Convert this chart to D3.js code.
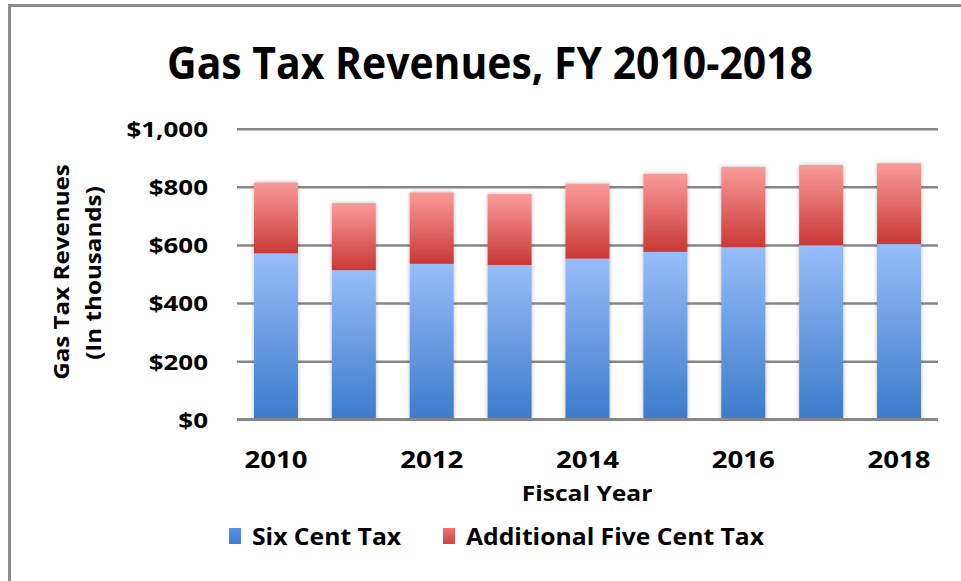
<!DOCTYPE html>
<html>
<head>
<meta charset="utf-8">
<script src="https://cdn.jsdelivr.net/npm/d3@7"></script>
<style>
  html, body { margin: 0; padding: 0; background: #ffffff; }
  svg { display: block; }
  text { font-family: "Open Sans", Lato, sans-serif; font-weight: 700; fill: #000; }
</style>
</head>
<body>
<svg id="chart" width="961" height="581"></svg>
<script>
// Fiscal years on the category axis
const years = ["2010", "2011", "2012", "2013", "2014", "2015", "2016", "2017", "2018"];
// Revenue from the six cent tax (in thousands of dollars)
const sixCentTax = [571, 513, 535, 531, 553, 576, 592, 599, 603];
// Revenue from the additional five cent tax (in thousands of dollars)
const fiveCentTax = [244, 231, 246, 244, 258, 269, 276, 276, 278];
// Labelled years on the x axis and value ticks on the y axis
const xTickLabels = ["2010", "2012", "2014", "2016", "2018"];
const yTickValues = [0, 200, 400, 600, 800, 1000];
const seriesNames = ["Six Cent Tax", "Additional Five Cent Tax"];

const svg = d3.select("#chart");
const W = 961, H = 581;
const plot = { left: 237, right: 938, top: 128.7, bottom: 419.3 };

const x = d3.scaleBand().domain(years).range([plot.left, plot.right])
  .paddingInner(0.435).paddingOuter(0.2175);
const y = d3.scaleLinear().domain([0, 1000]).range([plot.bottom, plot.top]);

const defs = svg.append("defs");
function grad(id, top, bottom) {
  const g = defs.append("linearGradient").attr("id", id)
    .attr("x1", 0).attr("y1", 0).attr("x2", 0).attr("y2", 1);
  g.append("stop").attr("offset", "0%").attr("stop-color", top);
  g.append("stop").attr("offset", "100%").attr("stop-color", bottom);
}
grad("gBlue", "#97bdf9", "#3c7bcb");
grad("gRed", "#fa9b99", "#c93836");
grad("gBlueKey", "#5b93e0", "#3f7ccc");
grad("gRedKey", "#ee7472", "#cf4442");
const sh = defs.append("filter").attr("id", "shadow")
  .attr("x", "-30%").attr("y", "-10%").attr("width", "160%").attr("height", "120%");
sh.append("feDropShadow").attr("dx", 0).attr("dy", 0).attr("stdDeviation", 2.2)
  .attr("flood-color", "#000").attr("flood-opacity", 0.28);

// frame
svg.append("line").attr("x1", 8).attr("x2", W).attr("y1", 5.5).attr("y2", 5.5)
  .attr("stroke", "#8c8c8c").attr("stroke-width", 3);
svg.append("line").attr("x1", 9.5).attr("x2", 9.5).attr("y1", 4).attr("y2", H)
  .attr("stroke", "#8c8c8c").attr("stroke-width", 3);

// horizontal gridlines with value labels
const yAxis = d3.axisLeft(y).tickValues(yTickValues)
  .tickSize(-(plot.right - plot.left)).tickPadding(0)
  .tickFormat(d => "$" + d3.format(",")(d));
const gy = svg.append("g").attr("transform", `translate(${plot.left},0)`).call(yAxis);
gy.select(".domain").remove();
gy.selectAll(".tick line").attr("stroke", "#878787").attr("stroke-width", 2.6);
gy.selectAll(".tick text")
  .attr("font-size", 22).attr("fill", "#000")
  .attr("font-family", null).attr("x", 0).attr("dy", "0.36em")
  .attr("transform", "translate(-29,0) scale(1.18,1)");

// stacked bars
const stack = d3.stack().keys(["six", "five"]);
const rows = years.map((yr, i) => ({ year: yr, six: sixCentTax[i], five: fiveCentTax[i] }));
const layers = stack(rows);
const fills = ["url(#gBlue)", "url(#gRed)"];
const gBars = svg.append("g").attr("filter", "url(#shadow)");
layers.forEach((layer, li) => {
  gBars.append("g").selectAll("rect").data(layer).join("rect")
    .attr("x", d => x(d.data.year))
    .attr("width", x.bandwidth())
    .attr("y", d => y(d[1]))
    .attr("height", d => y(d[0]) - y(d[1]))
    .attr("fill", fills[li]);
});

// baseline redrawn over bar shadows
svg.append("line").attr("x1", plot.left).attr("x2", plot.right)
  .attr("y1", y(0)).attr("y2", y(0)).attr("stroke", "#878787").attr("stroke-width", 2.6);

// x axis labels
const xAxis = d3.axisBottom(x).tickValues(xTickLabels).tickSize(0).tickPadding(0);
const gx = svg.append("g").attr("transform", `translate(0,${plot.bottom})`).call(xAxis);
gx.select(".domain").remove();
gx.selectAll(".tick text").attr("font-size", 23).attr("font-family", null).attr("fill", "#000")
  .attr("y", 0).attr("dy", 0)
  .attr("transform", "translate(0,49) scale(1.2,1)");
gx.selectAll(".tick").attr("transform", d => `translate(${x(d) + x.bandwidth() / 2},0)`);

function label(txt, cx, cy, size, stretch, rot) {
  return svg.append("text").text(txt)
    .attr("text-anchor", "middle")
    .attr("font-size", size)
    .attr("transform", `translate(${cx},${cy}) rotate(${rot || 0}) scale(${stretch},1)`);
}
label("Gas Tax Revenues, FY 2010-2018", 490, 79, 44, 0.93);
label("Fiscal Year", 587, 501, 22, 1.12);
label("Gas Tax Revenues", 69, 272, 22, 1.1, -90);
label("(In thousands)", 101, 273, 22, 1.1, -90);

// legend
const legendX = [229, 443];
const swatch = ["url(#gBlueKey)", "url(#gRedKey)"];
seriesNames.forEach((name, i) => {
  svg.append("rect").attr("x", legendX[i]).attr("y", 528).attr("width", 12).attr("height", 16)
    .attr("fill", swatch[i]);
  svg.append("text").text(name).attr("font-size", 24)
    .attr("transform", `translate(${legendX[i] + 23},545) scale(1.03,1)`);
});
</script>
</body>
</html>
